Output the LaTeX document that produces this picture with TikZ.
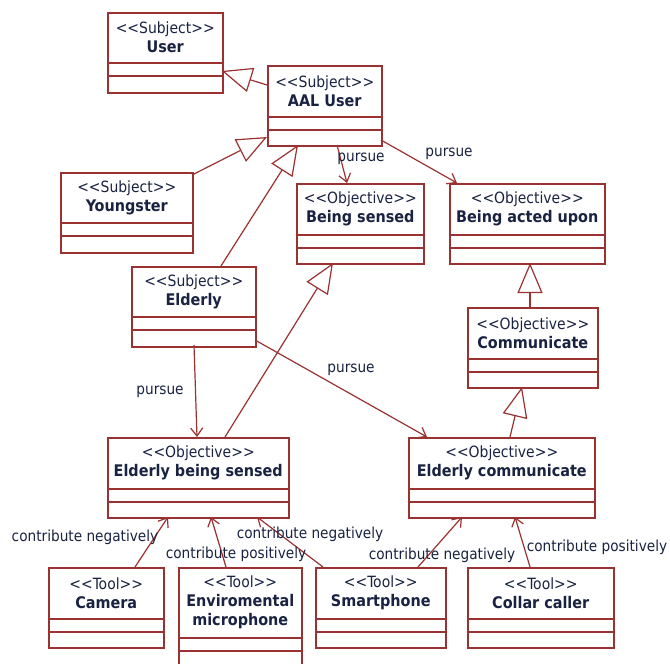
\documentclass[tikz,border=0pt]{standalone}
\usepackage{fontspec}
\setmainfont{DejaVu Sans Condensed}[BoldFont={DejaVu Sans Condensed Bold}]
\usepackage{tikz}
\usetikzlibrary{arrows.meta}
\usetikzlibrary{calc}
\usetikzlibrary{positioning}
\definecolor{umlred}{RGB}{155,50,50}
\definecolor{umltext}{RGB}{25,35,65}
\newcommand{\stereo}[1]{<\kern0pt<#1>\kern0pt>}
\tikzset{
    classbox/.style={draw=umlred, line width=1.5pt, fill=white, rectangle,
        anchor=north west, minimum height=80pt, inner sep=0pt},
    classtext/.style={text=umltext, align=center, inner sep=0pt,
        font=\fontsize{15.5}{19}\selectfont},
    compartment/.style={draw=umlred, line width=1.5pt},
    generalize/.style={draw=umlred, line width=1.2pt,
        -{Triangle[open, length=30pt, width=25pt, line width=1.2pt]}},
    pursue/.style={draw=umlred, line width=1.2pt,
        -{Straight Barb[length=8pt, width=12pt, line width=1.2pt]}},
    connlabel/.style={text=umltext, inner sep=0pt,
        font=\fontsize{15.2}{18}\selectfont},
}

\begin{document}
\begin{tikzpicture}[x=1pt, y=-1pt]
	\path[fill=white, use as bounding box] (0,0) rectangle (670,664);
	%
	% subjects
	\node[classbox, minimum width=115pt] (user) at (107,12) {};
	\node[classbox, minimum width=114pt] (aal) at (267,65) {};
	\node[classbox, minimum width=132pt] (youngster) at (60,172) {};
	\node[classbox, minimum width=124pt] (elderly) at (131,266) {};
	% objectives
	\node[classbox, minimum width=127pt] (sensed) at (296,183) {};
	\node[classbox, minimum width=155pt] (actedupon) at (449,183) {};
	\node[classbox, minimum width=130pt] (communicate) at (467,307) {};
	\node[classbox, minimum width=181pt] (elsensed) at (107,437) {};
	\node[classbox, minimum width=186pt] (elcomm) at (408,437) {};
	% tools
	\node[classbox, minimum width=115pt] (camera) at (48,567) {};
	\node[classbox, minimum width=123pt, minimum height=100pt] (micro) at (178,567) {};
	\node[classbox, minimum width=130pt] (smartphone) at (315,567) {};
	\node[classbox, minimum width=146pt] (collar) at (467,567) {};
	%
	\foreach \n/\h in {user/51, aal/52, youngster/51, elderly/51, sensed/52,
	    actedupon/52, communicate/52, elsensed/52, elcomm/52, camera/52,
	    micro/71, smartphone/52, collar/52}
		\draw[compartment] ($(\n.north west)+(0,\h)$) -- ($(\n.north east)+(0,\h)$)
		    ($(\n.north west)+(0,\h+13)$) -- ($(\n.north east)+(0,\h+13)$);
	%
	\node[classtext] (user-t) at ($(user.north)+(0,25.5)$) {\stereo{Subject}\\\fontsize{16}{19}\selectfont\bfseries User};
	\node[classtext] (aal-t) at ($(aal.north)+(0,26)$) {\stereo{Subject}\\\fontsize{16}{19}\selectfont\bfseries AAL User};
	\node[classtext] (youngster-t) at ($(youngster.north)+(0,25.5)$) {\stereo{Subject}\\\fontsize{16}{19}\selectfont\bfseries Youngster};
	\node[classtext] (elderly-t) at ($(elderly.north)+(0,25.5)$) {\stereo{Subject}\\\fontsize{16}{19}\selectfont\bfseries Elderly};
	\node[classtext] (sensed-t) at ($(sensed.north)+(0,26)$) {\stereo{Objective}\\\fontsize{16}{19}\selectfont\bfseries Being sensed};
	\node[classtext] (actedupon-t) at ($(actedupon.north)+(0,26)$) {\stereo{Objective}\\\fontsize{16}{19}\selectfont\bfseries Being acted upon};
	\node[classtext] (communicate-t) at ($(communicate.north)+(0,26)$) {\stereo{Objective}\\\fontsize{16}{19}\selectfont\bfseries Communicate};
	\node[classtext] (elsensed-t) at ($(elsensed.north)+(0,26)$) {\stereo{Objective}\\\fontsize{16}{19}\selectfont\bfseries Elderly being sensed};
	\node[classtext] (elcomm-t) at ($(elcomm.north)+(0,26)$) {\stereo{Objective}\\\fontsize{16}{19}\selectfont\bfseries Elderly communicate};
	\node[classtext] (camera-t) at ($(camera.north)+(0,26)$) {\stereo{Tool}\\\fontsize{16}{19}\selectfont\bfseries Camera};
	\node[classtext] (micro-t) at ($(micro.north)+(0,35.5)$) {\stereo{Tool}\\\fontsize{16}{19}\selectfont\bfseries Enviromental\\\fontsize{16}{19}\selectfont\bfseries microphone};
	\node[classtext] (smartphone-t) at ($(smartphone.north)+(0,26)$) {\stereo{Tool}\\\fontsize{16}{19}\selectfont\bfseries Smartphone};
	\node[classtext] (collar-t) at ($(collar.north)+(0,26)$) {\stereo{Tool}\\\fontsize{16}{19}\selectfont\bfseries Collar caller};
	%
	% generalizations
	\draw[generalize] ($(aal.north west)+(0,20)$) -- ($(user.north west)+(115,59)$);
	\draw[generalize] ($(youngster.north west)+(132,3)$) -- ($(aal.north west)+(0,72)$);
	\draw[generalize] ($(elderly.north west)+(90,0)$) -- ($(aal.north west)+(31,80)$);
	\draw[generalize] ($(elsensed.north west)+(118,0)$) -- ($(sensed.north west)+(37,80)$);
	\draw[generalize] ($(communicate.north west)+(63,0)$) -- ($(actedupon.north west)+(81,80)$);
	\draw[generalize] ($(elcomm.north west)+(102,0)$) -- ($(communicate.north west)+(55,80)$);
	%
	% pursue
	\draw[pursue] ($(aal.north west)+(70,80)$) -- ($(sensed.north west)+(51,0)$);
	\draw[pursue] ($(aal.north west)+(114,75)$) -- ($(actedupon.north west)+(8,0)$);
	\draw[pursue] ($(elderly.north west)+(63,79)$) -- ($(elsensed.north west)+(90,0)$);
	\draw[pursue] ($(elderly.north west)+(124,74)$) -- ($(elcomm.north west)+(19,0)$);
	%
	% contributions
	\draw[pursue] ($(camera.north west)+(87,0)$) -- ($(elsensed.north west)+(61,80)$);
	\draw[pursue] ($(micro.north west)+(48,0)$) -- ($(elsensed.north west)+(104,80)$);
	\draw[pursue] ($(smartphone.north west)+(8,0)$) -- ($(elsensed.north west)+(150,80)$);
	\draw[pursue] ($(smartphone.north west)+(103,0)$) -- ($(elcomm.north west)+(54,80)$);
	\draw[pursue] ($(collar.north west)+(63,0)$) -- ($(elcomm.north west)+(107,80)$);
	%
	\node[connlabel] (lbl-pursue1) at (361,159) {pursue};
	\node[connlabel] (lbl-pursue2) at (449,154) {pursue};
	\node[connlabel] (lbl-pursue3) at (160,392) {pursue};
	\node[connlabel] (lbl-pursue4) at (351,370) {pursue};
	\node[connlabel] (lbl-contrib1) at (85,537) {contribute negatively};
	\node[connlabel] (lbl-contrib2) at (236,554) {contribute positively};
	\node[connlabel] (lbl-contrib3) at (310,534) {contribute negatively};
	\node[connlabel] (lbl-contrib4) at (442,555) {contribute negatively};
	\node[connlabel] (lbl-contrib5) at (597,547) {contribute positively};
\end{tikzpicture}
\end{document}
